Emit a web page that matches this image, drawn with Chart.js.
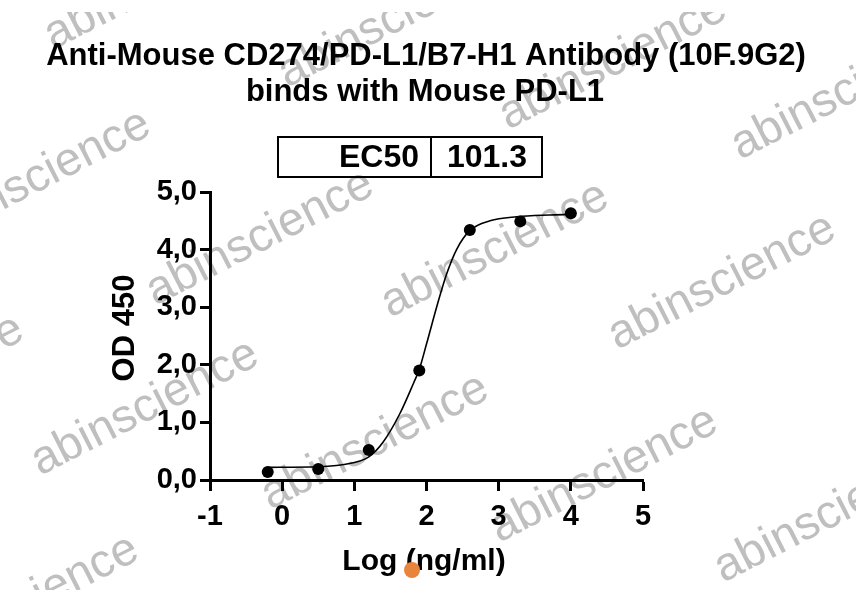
<!DOCTYPE html>
<html>
<head>
<meta charset="utf-8">
<script src="https://cdn.jsdelivr.net/npm/chart.js@4.4.1/dist/chart.umd.min.js"></script>
<style>
  html, body { margin: 0; padding: 0; background: #fff; }
  #wrap { width: 856px; height: 590px; }
</style>
</head>
<body>
<div id="wrap"><canvas id="grafico" width="856" height="590"></canvas></div>
<script>
const titolo = ["Anti-Mouse CD274/PD-L1/B7-H1 Antibody (10F.9G2)", "binds with Mouse PD-L1"];
const etichettaX = "Log (ng/ml)";
const etichettaY = "OD 450";
const ec50 = ["EC50", "101.3"];

// punti misurati
const logConc = [-0.2, 0.5, 1.2, 1.9, 2.6, 3.3, 4.0];
const od450 = [0.14, 0.19, 0.52, 1.90, 4.34, 4.49, 4.63];

// curva di fit
const curvaX = [-0.2, 0.5, 0.95, 1.2, 1.4, 1.63, 1.82, 1.9, 2.0, 2.14, 2.28, 2.42, 2.6, 2.88, 3.25, 3.7, 4.0];
const curvaY = [0.22, 0.23, 0.29, 0.40, 0.66, 1.15, 1.68, 1.92, 2.36, 3.0, 3.58, 4.01, 4.33, 4.50, 4.57, 4.60, 4.61];

const tickX = [-1, 0, 1, 2, 3, 4, 5];
const tickY = [0, 1, 2, 3, 4, 5];

const FONT = "'Liberation Sans', Arial, sans-serif";

// filigrane "abinscience" (solo decorazione)
const filigrana = [
  [158, -18], [392, 20], [613, 62], [845, 92], [37, 178], [260, 238],
  [495, 250], [722, 282], [-90, 383], [145, 408], [375, 442], [604, 475],
  [828, 515], [25, 603]
];

const decorazioni = {
  id: "decorazioni",
  beforeDraw(chart) {
    const ctx = chart.ctx;
    ctx.save();
    ctx.beginPath();
    ctx.rect(0, 12, chart.width, chart.height - 12);
    ctx.clip();
    ctx.font = "47px " + FONT;
    ctx.fillStyle = "#bfbfbf";
    ctx.textAlign = "center";
    ctx.textBaseline = "middle";
    filigrana.forEach(([x, y]) => {
      ctx.save();
      ctx.translate(x, y);
      ctx.rotate(-27 * Math.PI / 180);
      ctx.fillText("abinscience", 0, 0);
      ctx.restore();
    });
    ctx.restore();
  },
  afterDraw(chart) {
    const ctx = chart.ctx;
    ctx.save();
    ctx.fillStyle = "#000";
    ctx.textBaseline = "middle";
    ctx.textAlign = "center";
    ctx.font = "bold 31px " + FONT;
    ctx.fillText(titolo[0], 426, 56);
    ctx.fillText(titolo[1], 425, 92);

    // tabella EC50
    ctx.strokeStyle = "#000";
    ctx.lineWidth = 2;
    ctx.strokeRect(278, 137, 264, 40);
    ctx.beginPath();
    ctx.moveTo(431, 137);
    ctx.lineTo(431, 177);
    ctx.stroke();
    ctx.font = "bold 32px " + FONT;
    ctx.textAlign = "right";
    ctx.fillText(ec50[0], 419, 158);
    ctx.textAlign = "center";
    ctx.fillText(ec50[1], 487, 158);

    // titoli degli assi
    ctx.font = "bold 30px " + FONT;
    ctx.fillText(etichettaX, 424, 562);
    ctx.save();
    ctx.translate(125, 328);
    ctx.rotate(-Math.PI / 2);
    ctx.font = "bold 31px " + FONT;
    ctx.fillText(etichettaY, 0, 0);
    ctx.restore();

    // puntino arancione
    ctx.fillStyle = "#e8843c";
    ctx.beginPath();
    ctx.arc(412, 570, 8, 0, Math.PI * 2);
    ctx.fill();
    ctx.restore();
  }
};

new Chart(document.getElementById("grafico"), {
  type: "scatter",
  data: {
    datasets: [
      {
        label: "fit",
        data: curvaX.map((x, i) => ({ x: x, y: curvaY[i] })),
        showLine: true,
        borderColor: "#000",
        borderWidth: 1.6,
        pointRadius: 0,
        cubicInterpolationMode: "monotone",
        fill: false
      },
      {
        label: "dati",
        data: logConc.map((x, i) => ({ x: x, y: od450[i] })),
        pointRadius: 6,
        pointBackgroundColor: "#000",
        pointBorderWidth: 0
      }
    ]
  },
  options: {
    responsive: false,
    animation: false,
    layout: { padding: { left: 0, top: 192, right: 213, bottom: 0 } },
    plugins: { legend: { display: false }, tooltip: { enabled: false } },
    scales: {
      x: {
        type: "linear",
        min: -1,
        max: 5,
        afterBuildTicks: (scale) => { scale.ticks = tickX.map((v) => ({ value: v })); },
        afterFit: (scale) => { scale.height = 110; },
        border: { display: true, color: "#000", width: 3 },
        grid: { drawOnChartArea: false, drawTicks: true, tickLength: 11, tickWidth: 3, tickColor: "#000" },
        ticks: { color: "#000", padding: 9, font: { family: FONT, size: 29, weight: "bold" } }
      },
      y: {
        type: "linear",
        min: 0,
        max: 5,
        afterBuildTicks: (scale) => { scale.ticks = tickY.map((v) => ({ value: v })); },
        afterFit: (scale) => { scale.width = 210; },
        border: { display: true, color: "#000", width: 3 },
        grid: { drawOnChartArea: false, drawTicks: true, tickLength: 10, tickWidth: 3, tickColor: "#000" },
        ticks: {
          color: "#000",
          padding: 3,
          font: { family: FONT, size: 29, weight: "bold" },
          callback: (v) => v.toFixed(1).replace(".", ",")
        }
      }
    }
  },
  plugins: [decorazioni]
});
</script>
</body>
</html>
